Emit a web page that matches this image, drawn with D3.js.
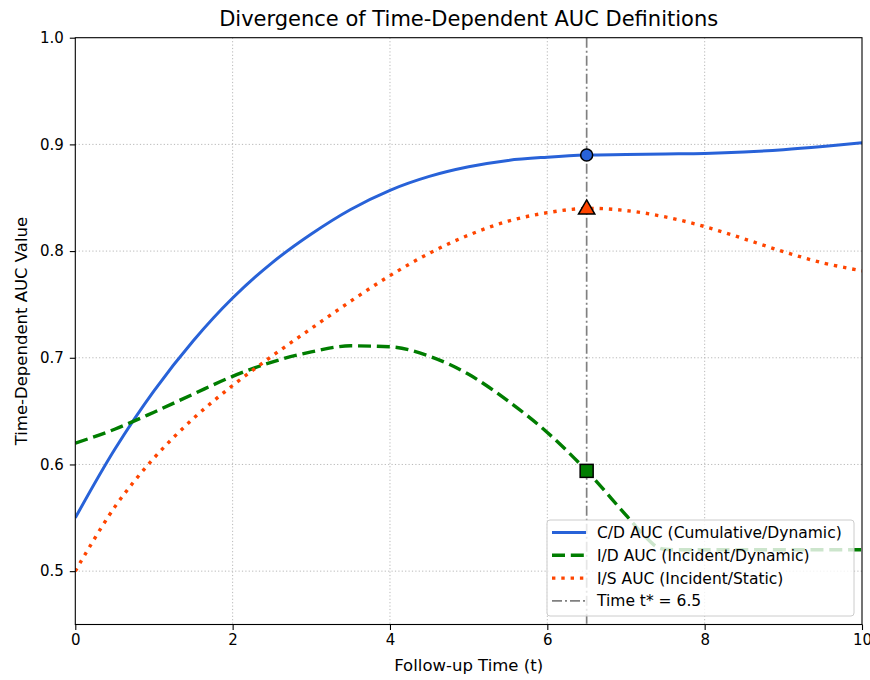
<!DOCTYPE html>
<html>
<head>
<meta charset="utf-8">
<script src="https://cdn.jsdelivr.net/npm/d3@7"></script>
<style>
  body { margin: 0; background: #fff; }
  svg { font-family: "DejaVu Sans", sans-serif; }
</style>
</head>
<body>
<svg id="chart" width="870" height="680"></svg>
<script>
// ---- Data ----
const timePoints = [0, 0.5, 1, 1.5, 2, 2.5, 3, 3.5, 4, 4.5, 5, 5.5, 6, 6.5, 7, 7.5, 8, 8.5, 9, 9.5, 10];
const cdAUC = [0.550, 0.614, 0.669, 0.716, 0.756, 0.789, 0.816, 0.839, 0.857, 0.870, 0.879, 0.885, 0.888, 0.890, 0.8905, 0.891, 0.8915, 0.8928, 0.895, 0.898, 0.9015];
const idTime = [0, 0.5, 1, 1.5, 2, 2.5, 3, 3.5, 4, 4.5, 5, 5.5, 6, 6.5, 7, 7.25, 7.4, 7.5, 7.7, 8, 9, 10];
const idAUC = [0.620, 0.633, 0.649, 0.666, 0.6826, 0.696, 0.7055, 0.7112, 0.7103, 0.7015, 0.6845, 0.6595, 0.630, 0.594, 0.5525, 0.532, 0.5225, 0.5205, 0.520, 0.520, 0.520, 0.520];
const isAUC = [0.500, 0.560, 0.606, 0.643, 0.674, 0.7015, 0.7275, 0.753, 0.777, 0.798, 0.815, 0.828, 0.836, 0.840, 0.838, 0.832, 0.823, 0.8115, 0.7995, 0.789, 0.7815];
const tStar = 6.5;
const markerValues = [0.890, 0.594, 0.840];
const xTicks = [0, 2, 4, 6, 8, 10];
const yTicks = [0.5, 0.6, 0.7, 0.8, 0.9, 1.0];
const legendLabels = ["C/D AUC (Cumulative/Dynamic)", "I/D AUC (Incident/Dynamic)", "I/S AUC (Incident/Static)", "Time t* = 6.5"];

// ---- Layout ----
const svg = d3.select("#chart");
const L = 75.3, R = 862, T = 37.7, B = 624.5;
const x = d3.scaleLinear().domain([0, 10]).range([L, R]);
const y = d3.scaleLinear().domain([0.45, 1.0]).range([B, T]);

const colBlue = "#2862d8", colGreen = "#007d00", colOrange = "#ff4500", colGray = "#808080";
const dashGreen = "13,5.8", dashOrange = "3.4,5.9", dashGray = "10,3,2,3";

// grid
const grid = svg.append("g");
grid.selectAll("line.gx").data(xTicks.slice(1, -1)).join("line")
  .attr("x1", d => x(d)).attr("x2", d => x(d)).attr("y1", T).attr("y2", B)
  .attr("stroke", "#b0b0b0").attr("stroke-width", 0.9).attr("stroke-dasharray", "1.2,2.2");
grid.selectAll("line.gy").data(yTicks.slice(0, -1)).join("line")
  .attr("y1", d => y(d)).attr("y2", d => y(d)).attr("x1", L).attr("x2", R)
  .attr("stroke", "#b0b0b0").attr("stroke-width", 0.9).attr("stroke-dasharray", "1.2,2.2");

const plot = svg.append("g");
svg.append("clipPath").attr("id", "clip").append("rect").attr("x", L).attr("y", T).attr("width", R - L).attr("height", B - T);
plot.attr("clip-path", "url(#clip)");

const smooth = d3.line().x(d => x(d[0])).y(d => y(d[1])).curve(d3.curveCatmullRom.alpha(0.5));
const mono = d3.line().x(d => x(d[0])).y(d => y(d[1])).curve(d3.curveMonotoneX);

plot.append("path").datum(timePoints.map((t, i) => [t, cdAUC[i]]))
  .attr("d", smooth).attr("fill", "none").attr("stroke", colBlue).attr("stroke-width", 3);
plot.append("path").datum(idTime.map((t, i) => [t, idAUC[i]]))
  .attr("d", mono).attr("fill", "none").attr("stroke", colGreen).attr("stroke-width", 3.4)
  .attr("stroke-dasharray", dashGreen);
plot.append("path").datum(timePoints.map((t, i) => [t, isAUC[i]]))
  .attr("d", smooth).attr("fill", "none").attr("stroke", colOrange).attr("stroke-width", 3.4)
  .attr("stroke-dasharray", dashOrange);

// vertical t* line
plot.append("line").attr("x1", x(tStar)).attr("x2", x(tStar)).attr("y1", T).attr("y2", B)
  .attr("stroke", colGray).attr("stroke-width", 1.7).attr("stroke-dasharray", dashGray);

// markers
const mx = x(tStar);
svg.append("circle").attr("cx", mx).attr("cy", y(markerValues[0])).attr("r", 6)
  .attr("fill", colBlue).attr("stroke", "#000").attr("stroke-width", 1.5);
svg.append("rect").attr("x", mx - 6.5).attr("y", y(markerValues[1]) - 6.5).attr("width", 13).attr("height", 13)
  .attr("fill", colGreen).attr("stroke", "#000").attr("stroke-width", 1.5);
svg.append("path").attr("d", d3.symbol().type(d3.symbolTriangle).size(115)())
  .attr("transform", `translate(${mx},${y(markerValues[2]) + 1})`)
  .attr("fill", colOrange).attr("stroke", "#000").attr("stroke-width", 1.5);

// frame
svg.append("rect").attr("x", L).attr("y", T).attr("width", R - L).attr("height", B - T)
  .attr("fill", "none").attr("stroke", "#000").attr("stroke-width", 1.1);

// axes
const xAxis = svg.append("g").attr("transform", `translate(0,${B})`)
  .call(d3.axisBottom(x).tickValues(xTicks).tickFormat(d3.format("d")).tickSize(5.5).tickPadding(4.5));
const yAxis = svg.append("g").attr("transform", `translate(${L},0)`)
  .call(d3.axisLeft(y).tickValues(yTicks).tickFormat(d3.format(".1f")).tickSize(5.5).tickPadding(6));
[xAxis, yAxis].forEach(a => {
  a.select(".domain").remove();
  a.selectAll("line").attr("stroke", "#000").attr("stroke-width", 1.1);
  a.selectAll("text").attr("font-family", "DejaVu Sans").attr("font-size", 15).attr("fill", "#000");
});

// titles
svg.append("text").attr("x", (L + R) / 2).attr("y", 26).attr("text-anchor", "middle")
  .attr("font-size", 21).text("Divergence of Time-Dependent AUC Definitions");
svg.append("text").attr("x", (L + R) / 2).attr("y", 671).attr("text-anchor", "middle")
  .attr("font-size", 16.5).text("Follow-up Time (t)");
svg.append("text").attr("transform", `translate(27,${(T + B) / 2}) rotate(-90)`).attr("text-anchor", "middle")
  .attr("font-size", 16.5).text("Time-Dependent AUC Value");

// legend
const lg = svg.append("g");
lg.append("rect").attr("x", 547).attr("y", 520).attr("width", 307).attr("height", 96).attr("rx", 3)
  .attr("fill", "#fff").attr("fill-opacity", 0.8).attr("stroke", "#cccccc").attr("stroke-width", 1);
const styles = [
  { c: colBlue, w: 3, d: null },
  { c: colGreen, w: 3.4, d: dashGreen },
  { c: colOrange, w: 3.4, d: dashOrange },
  { c: colGray, w: 1.7, d: dashGray }
];
legendLabels.forEach((lab, i) => {
  const yy = 532.5 + i * 22.8;
  lg.append("line").attr("x1", 552).attr("x2", 586).attr("y1", yy).attr("y2", yy)
    .attr("stroke", styles[i].c).attr("stroke-width", styles[i].w)
    .attr("stroke-dasharray", styles[i].d);
  lg.append("text").attr("x", 597).attr("y", yy).attr("dy", "0.35em")
    .attr("font-size", 15.5).text(lab);
});
</script>
</body>
</html>
